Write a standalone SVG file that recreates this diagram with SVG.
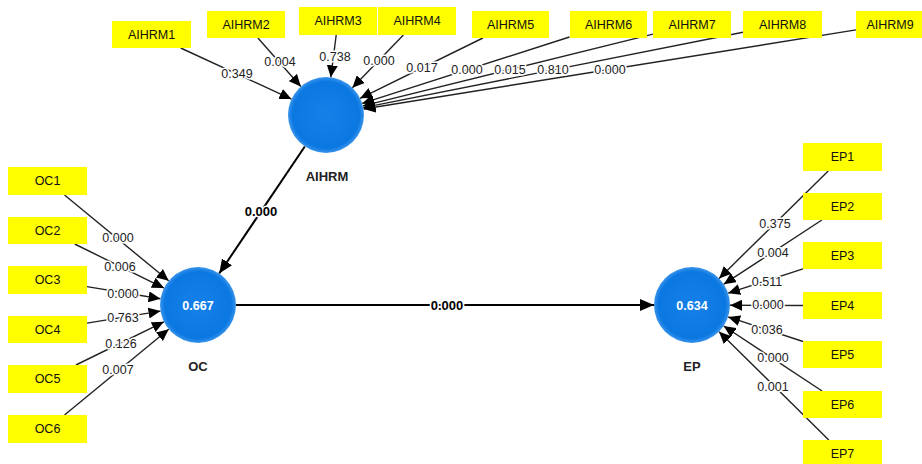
<svg xmlns="http://www.w3.org/2000/svg" width="922" height="464" viewBox="0 0 922 464">
  <defs>
    <radialGradient id="lv" cx="50%" cy="50%" r="50%">
      <stop offset="0" stop-color="#1580e8"/>
      <stop offset="0.88" stop-color="#0b78e2"/>
      <stop offset="1" stop-color="#3a94ea"/>
    </radialGradient>
    <marker id="ah" markerUnits="userSpaceOnUse" markerWidth="13" markerHeight="11" refX="12" refY="5.5" orient="auto">
      <path d="M0,0 L12,5.5 L0,11 Z" fill="#000"/>
    </marker>
    <marker id="ahb" markerUnits="userSpaceOnUse" markerWidth="15" markerHeight="12" refX="14" refY="6" orient="auto">
      <path d="M0,0 L14,6 L0,12 Z" fill="#000"/>
    </marker>
  </defs>
  <style>
    .ind rect { fill: #ffff00; }
    .ind text { font-family: "Liberation Sans", Arial, sans-serif; font-size: 12.5px; fill: #111; text-anchor: middle; }
    .lv circle { fill: url(#lv); }
    .lv .val { font-family: "Liberation Sans", Arial, sans-serif; font-size: 12.5px; font-weight: bold; fill: #fff; text-anchor: middle; }
    .lv .name { font-family: "Liberation Sans", Arial, sans-serif; font-size: 13px; font-weight: bold; fill: #222; text-anchor: middle; }
    .edge line { stroke: #222; stroke-width: 1.4; marker-end: url(#ah); }
    .edge line.path { stroke: #000; stroke-width: 2; marker-end: url(#ahb); }
    .w { font-family: "Liberation Sans", Arial, sans-serif; font-size: 12.5px; fill: #222; text-anchor: middle; paint-order: stroke; stroke: #fff; stroke-width: 3px; stroke-linejoin: round; }
    .pw { font-family: "Liberation Sans", Arial, sans-serif; font-size: 13px; font-weight: bold; fill: #000; text-anchor: middle; paint-order: stroke; stroke: #fff; stroke-width: 3px; stroke-linejoin: round; }
  </style>

  <!-- connectors -->
  <g id="connectors" class="edge">
    <!-- AIHRM indicators -->
    <line x1="180.7" y1="48" x2="291.5" y2="99.1"/>
    <line x1="257.9" y1="38" x2="300.8" y2="86.5"/>
    <line x1="336.2" y1="35" x2="330.8" y2="77.3"/>
    <line x1="403.4" y1="35" x2="352.4" y2="87.7"/>
    <line x1="482.9" y1="38" x2="360.1" y2="98.3"/>
    <line x1="569.5" y1="37" x2="362.2" y2="103.4"/>
    <line x1="653" y1="34.1" x2="362.9" y2="105.9"/>
    <line x1="743" y1="32.3" x2="363.3" y2="107.6"/>
    <line x1="856" y1="29.9" x2="363.5" y2="109"/>
    <!-- OC indicators -->
    <line x1="64.5" y1="195" x2="168.7" y2="280.8"/>
    <line x1="74.7" y1="244" x2="164" y2="288.1"/>
    <line x1="87" y1="286.6" x2="160.5" y2="298.8"/>
    <line x1="87" y1="323.1" x2="160.5" y2="311.1"/>
    <line x1="75.9" y1="365" x2="163.9" y2="321.8"/>
    <line x1="64.5" y1="415" x2="168.7" y2="329.2"/>
    <!-- EP indicators -->
    <line x1="828.2" y1="171" x2="719.1" y2="278.4"/>
    <line x1="821.9" y1="220" x2="723.8" y2="284.2"/>
    <line x1="803" y1="268.9" x2="728.1" y2="293.2"/>
    <line x1="803" y1="305.5" x2="730" y2="305.2"/>
    <line x1="803" y1="341.5" x2="728.1" y2="316.9"/>
    <line x1="822.1" y1="391" x2="723.7" y2="326"/>
    <line x1="828.8" y1="440" x2="719.1" y2="331.7"/>
    <!-- structural paths -->
    <line class="path" x1="304.8" y1="146.5" x2="219.2" y2="273.5"/>
    <line class="path" x1="236" y1="305" x2="654" y2="305"/>

    <!-- weights -->
    <text class="w" x="237" y="78">0.349</text>
    <text class="w" x="280" y="66">0.004</text>
    <text class="w" x="335" y="61">0.738</text>
    <text class="w" x="379" y="65">0.000</text>
    <text class="w" x="422" y="72">0.017</text>
    <text class="w" x="467" y="74">0.000</text>
    <text class="w" x="510" y="74">0.015</text>
    <text class="w" x="553" y="74">0.810</text>
    <text class="w" x="610" y="74">0.000</text>

    <text class="w" x="118" y="242">0.000</text>
    <text class="w" x="120" y="271">0.006</text>
    <text class="w" x="123" y="298">0.000</text>
    <text class="w" x="123" y="322">0.763</text>
    <text class="w" x="121" y="348">0.126</text>
    <text class="w" x="118" y="374">0.007</text>

    <text class="w" x="775" y="228">0.375</text>
    <text class="w" x="773" y="257">0.004</text>
    <text class="w" x="767" y="286">0.511</text>
    <text class="w" x="768" y="309">0.000</text>
    <text class="w" x="767" y="334">0.036</text>
    <text class="w" x="773" y="362">0.000</text>
    <text class="w" x="773" y="391">0.001</text>

    <text class="pw" x="261" y="216">0.000</text>
    <text class="pw" x="447" y="310">0.000</text>
  </g>

  <!-- latent variables -->
  <g id="AIHRM" class="lv">
    <circle cx="326" cy="115" r="38"/>
    <text class="name" x="327" y="181">AIHRM</text>
  </g>
  <g id="OC" class="lv">
    <circle cx="198" cy="305" r="38"/>
    <text class="val" x="198" y="310">0.667</text>
    <text class="name" x="198" y="371">OC</text>
  </g>
  <g id="EP" class="lv">
    <circle cx="692" cy="305" r="38"/>
    <text class="val" x="692" y="310">0.634</text>
    <text class="name" x="692" y="371">EP</text>
  </g>

  <!-- AIHRM indicators -->
  <g id="AIHRM1" class="ind"><rect x="112" y="21" width="79" height="27"/><text x="151.5" y="39">AIHRM1</text></g>
  <g id="AIHRM2" class="ind"><rect x="207" y="11" width="78" height="27"/><text x="246" y="29">AIHRM2</text></g>
  <g id="AIHRM3" class="ind"><rect x="299" y="7" width="78" height="28"/><text x="338" y="25">AIHRM3</text></g>
  <g id="AIHRM4" class="ind"><rect x="378" y="7" width="78" height="28"/><text x="417" y="25">AIHRM4</text></g>
  <g id="AIHRM5" class="ind"><rect x="472" y="11" width="77" height="27"/><text x="510.5" y="29">AIHRM5</text></g>
  <g id="AIHRM6" class="ind"><rect x="570" y="11" width="77" height="27"/><text x="608.5" y="29">AIHRM6</text></g>
  <g id="AIHRM7" class="ind"><rect x="653" y="11" width="78" height="27"/><text x="692" y="29">AIHRM7</text></g>
  <g id="AIHRM8" class="ind"><rect x="743" y="11" width="79" height="27"/><text x="782.5" y="29">AIHRM8</text></g>
  <g id="AIHRM9" class="ind"><rect x="856" y="11" width="70" height="27"/><text x="890" y="29">AIHRM9</text></g>

  <!-- OC indicators -->
  <g id="OC1" class="ind"><rect x="8" y="167" width="79" height="28"/><text x="47.5" y="185">OC1</text></g>
  <g id="OC2" class="ind"><rect x="8" y="217" width="79" height="27"/><text x="47.5" y="235">OC2</text></g>
  <g id="OC3" class="ind"><rect x="8" y="266" width="79" height="28"/><text x="47.5" y="284">OC3</text></g>
  <g id="OC4" class="ind"><rect x="8" y="316" width="79" height="27"/><text x="47.5" y="334">OC4</text></g>
  <g id="OC5" class="ind"><rect x="8" y="365" width="79" height="28"/><text x="47.5" y="383">OC5</text></g>
  <g id="OC6" class="ind"><rect x="8" y="415" width="79" height="28"/><text x="47.5" y="433">OC6</text></g>

  <!-- EP indicators -->
  <g id="EP1" class="ind"><rect x="803" y="143" width="79" height="28"/><text x="842.5" y="161">EP1</text></g>
  <g id="EP2" class="ind"><rect x="803" y="193" width="79" height="27"/><text x="842.5" y="211">EP2</text></g>
  <g id="EP3" class="ind"><rect x="803" y="242" width="79" height="27"/><text x="842.5" y="260">EP3</text></g>
  <g id="EP4" class="ind"><rect x="803" y="292" width="79" height="27"/><text x="842.5" y="310">EP4</text></g>
  <g id="EP5" class="ind"><rect x="803" y="341" width="79" height="27"/><text x="842.5" y="359">EP5</text></g>
  <g id="EP6" class="ind"><rect x="803" y="391" width="79" height="27"/><text x="842.5" y="409">EP6</text></g>
  <g id="EP7" class="ind"><rect x="803" y="440" width="79" height="28"/><text x="842.5" y="458">EP7</text></g>
</svg>
